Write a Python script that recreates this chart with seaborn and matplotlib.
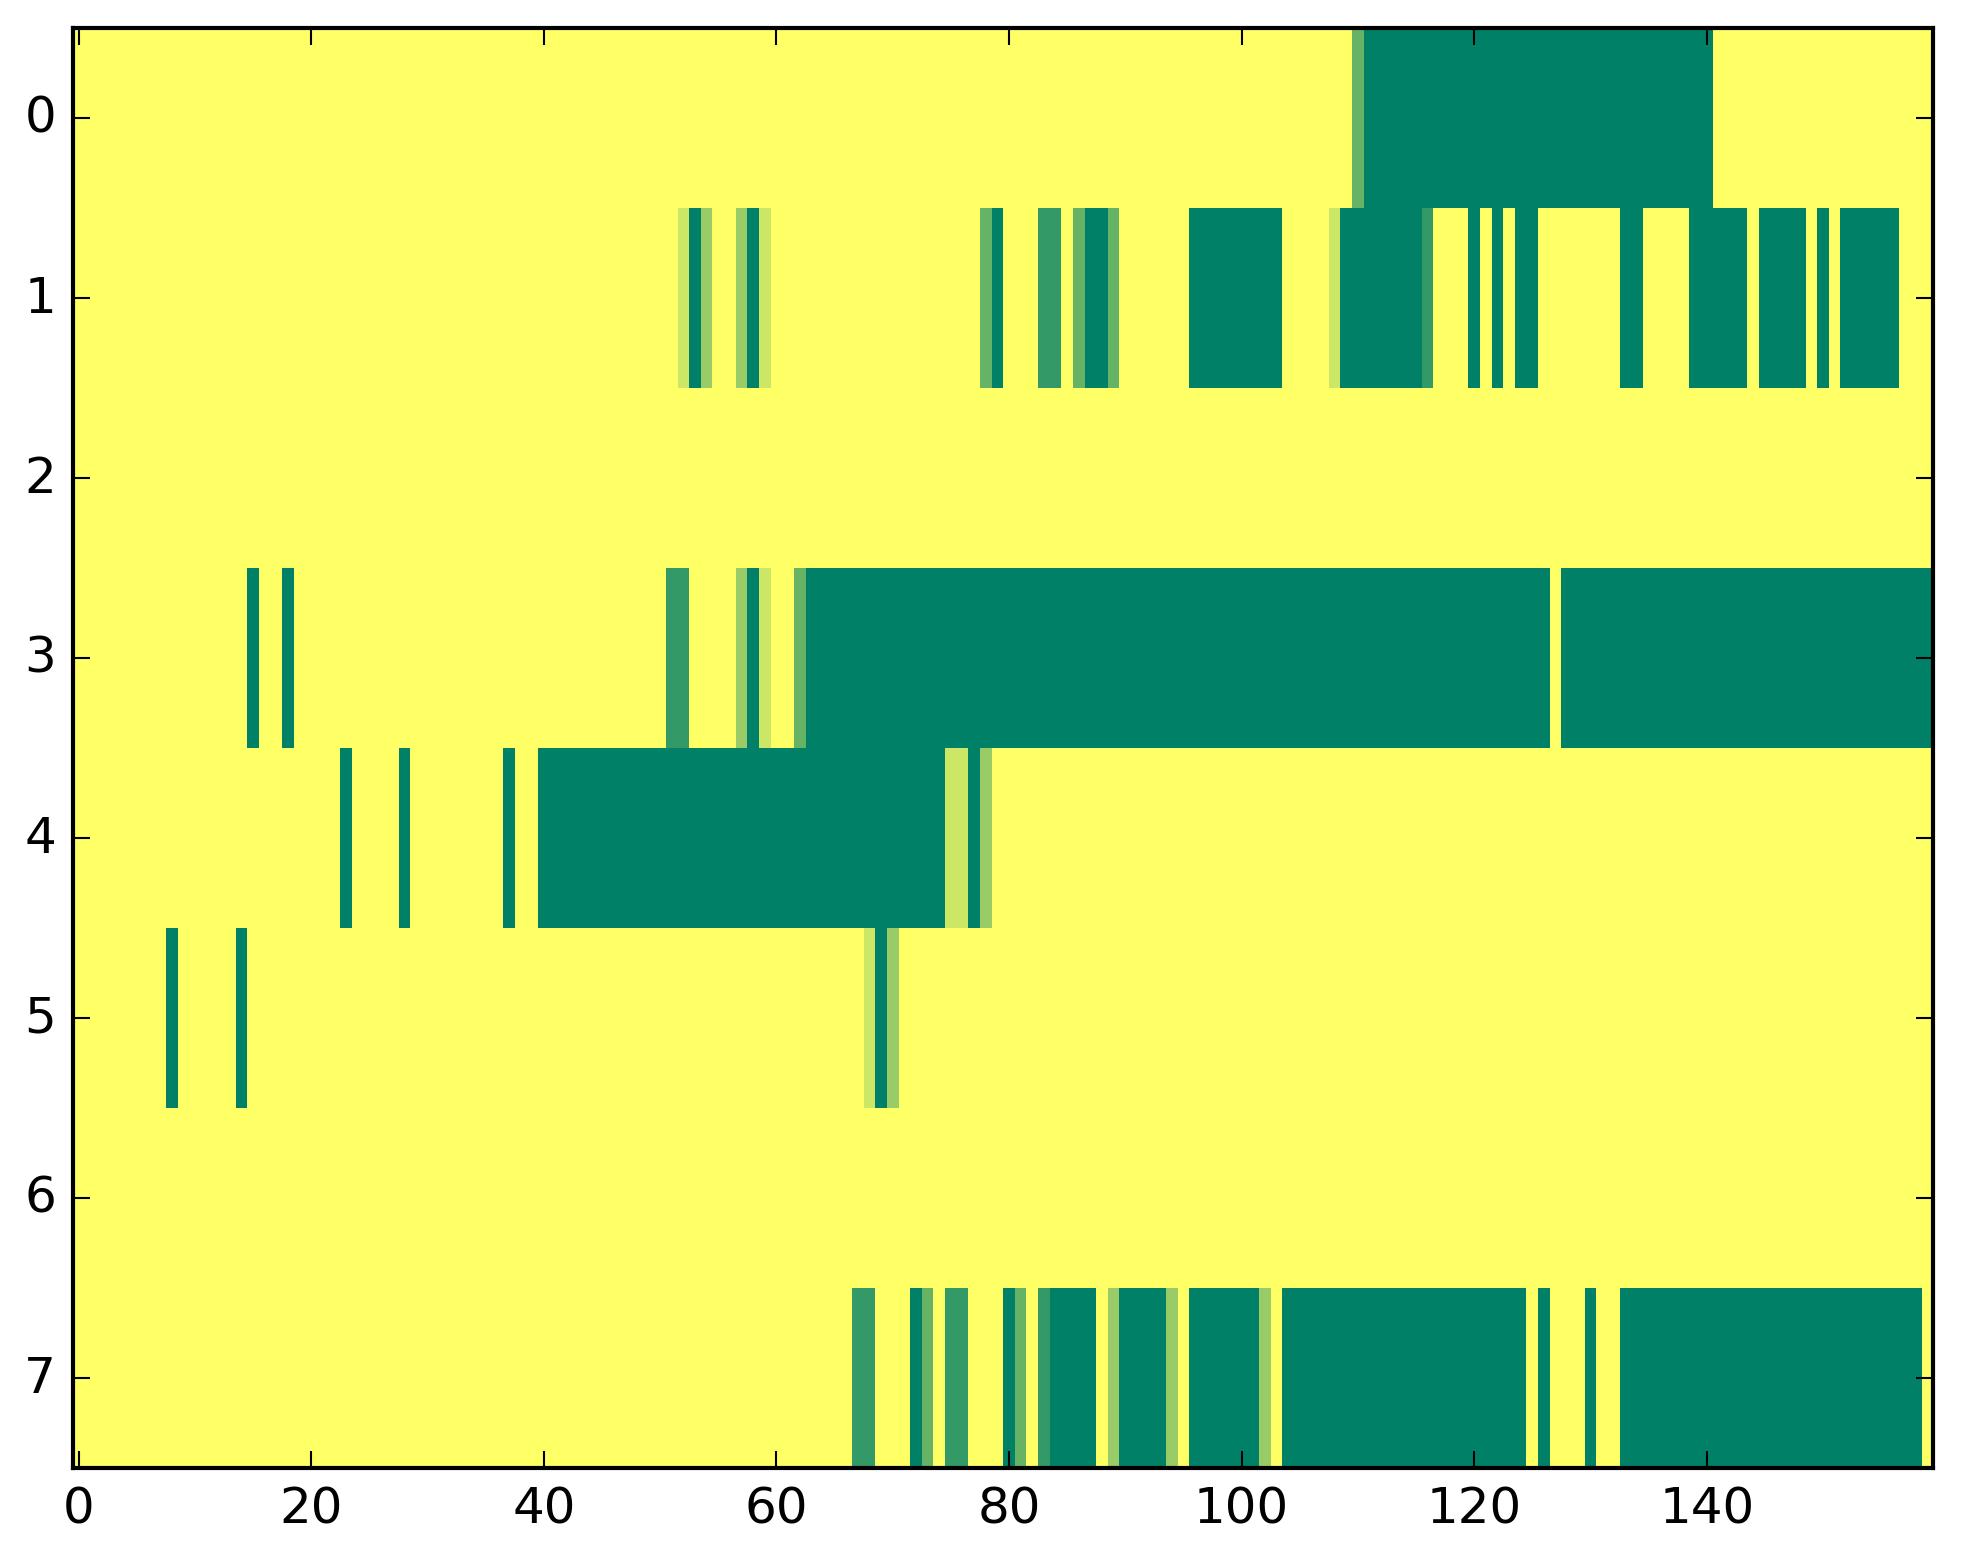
import numpy as np
import pandas as pd
import matplotlib
matplotlib.use("Agg")
import matplotlib.pyplot as plt
import seaborn as sns

# ---- data: runs of (first column, last column, value) per row; all other cells are 0 ----
n_cols = 160
row_labels = [0, 1, 2, 3, 4, 5, 6, 7]
x_tick_values = [0, 20, 40, 60, 80, 100, 120, 140]

row0_runs = [(110, 110, 0.6), (111, 140, 1.0)]
row1_runs = [(52, 52, 0.2), (53, 53, 1.0), (54, 54, 0.4), (57, 57, 0.4), (58, 58, 1.0),
             (59, 59, 0.2), (78, 78, 0.6), (79, 79, 1.0), (83, 84, 0.8), (86, 86, 0.6),
             (87, 88, 1.0), (89, 89, 0.6), (96, 103, 1.0), (108, 108, 0.2), (109, 115, 1.0),
             (116, 116, 0.8), (120, 120, 1.0), (122, 122, 1.0), (124, 125, 1.0),
             (133, 134, 1.0), (139, 143, 1.0), (145, 148, 1.0), (150, 150, 1.0),
             (152, 156, 1.0)]
row2_runs = []
row3_runs = [(15, 15, 1.0), (18, 18, 1.0), (51, 52, 0.8), (57, 57, 0.4), (58, 58, 1.0),
             (59, 59, 0.2), (62, 62, 0.6), (63, 126, 1.0), (128, 159, 1.0)]
row4_runs = [(23, 23, 1.0), (28, 28, 1.0), (37, 37, 1.0), (40, 74, 1.0), (75, 76, 0.2),
             (77, 77, 1.0), (78, 78, 0.4)]
row5_runs = [(8, 8, 1.0), (14, 14, 1.0), (68, 68, 0.2), (69, 69, 1.0), (70, 70, 0.4)]
row6_runs = []
row7_runs = [(67, 68, 0.8), (72, 72, 1.0), (73, 73, 0.6), (75, 76, 0.8), (80, 80, 1.0),
             (81, 81, 0.6), (83, 83, 0.8), (84, 87, 1.0), (89, 89, 0.4), (90, 93, 1.0),
             (94, 94, 0.4), (96, 101, 1.0), (102, 102, 0.4), (104, 124, 1.0),
             (126, 126, 1.0), (130, 130, 1.0), (133, 158, 1.0)]

all_runs = [row0_runs, row1_runs, row2_runs, row3_runs,
            row4_runs, row5_runs, row6_runs, row7_runs]

matrix = np.zeros((len(row_labels), n_cols))
for r, runs in enumerate(all_runs):
    for a, b, v in runs:
        matrix[r, a:b + 1] = v
df = pd.DataFrame(matrix, index=row_labels, columns=range(n_cols))

# ---- style (classic matplotlib look) ----
plt.rcParams["font.family"] = ["DejaVu Sans"]
plt.rcParams["font.size"] = 12

fig = plt.figure(figsize=(1963 / 300, 1564 / 300), dpi=300)
ax = fig.add_axes([0.03714, 0.06094, 0.98497 - 0.03714, 0.98165 - 0.06094])

sns.heatmap(df, ax=ax, cmap="summer_r", vmin=0, vmax=1, cbar=False,
            linewidths=0, rasterized=True)

for s in ax.spines.values():
    s.set_visible(True)
    s.set_color("black")
    s.set_linewidth(1.0)

ax.set_xticks([v + 0.5 for v in x_tick_values])
ax.set_xticklabels([str(v) for v in x_tick_values], rotation=0)
ax.set_yticks([r + 0.5 for r in row_labels])
ax.set_yticklabels([str(r) for r in row_labels], rotation=0)
ax.tick_params(axis="both", which="major", direction="in", length=4, width=0.5,
               top=True, right=True, bottom=True, left=True,
               labelsize=12, pad=4, colors="black")
ax.set_xlabel("")
ax.set_ylabel("")

fig.savefig("out.png", dpi=300, facecolor="white")
